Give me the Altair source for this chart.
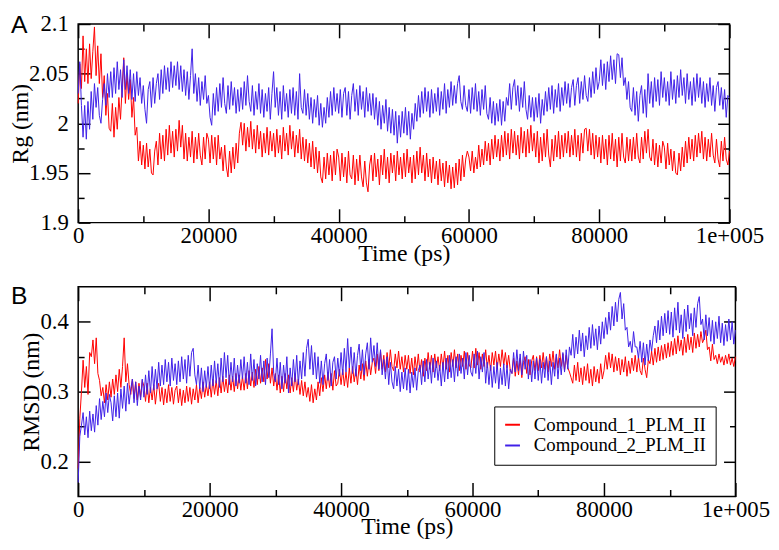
import altair as alt
import pandas as pd

time_ps = [i * 250 for i in range(401)]

series_names = ["Compound_1_PLM_II", "Compound_2_PLM_II"]
series_colors = ["#ff0000", "#3f20e8"]

rg_compound1 = [
    2.020, 2.060, 2.035, 2.088, 2.042, 2.075, 2.040, 2.080, 2.045, 2.072, 2.097, 2.048, 2.078, 2.040, 2.070, 2.026, 2.048, 2.008, 2.030, 1.995,
    1.992, 2.020, 1.986, 2.016, 1.994, 2.026, 2.004, 2.036, 2.066, 2.020, 2.050, 2.024, 2.044, 2.006, 2.026, 1.988, 1.996, 1.962, 1.982, 1.958,
    1.978, 1.954, 1.980, 1.956, 1.974, 1.950, 1.948, 1.972, 1.982, 1.958, 1.990, 1.964, 1.988, 1.962, 1.994, 1.968, 1.998, 1.970, 1.992, 1.966,
    1.994, 1.972, 2.003, 1.976, 1.998, 1.964, 1.990, 1.962, 1.986, 1.966, 1.992, 1.960, 1.986, 1.964, 1.990, 1.968, 1.958, 1.986, 1.964, 1.990,
    1.984, 1.960, 1.988, 1.964, 1.986, 1.958, 1.988, 1.964, 1.976, 1.952, 1.978, 1.956, 1.946, 1.972, 1.950, 1.976, 1.954, 1.980, 1.960, 1.990,
    2.001, 1.978, 2.000, 1.972, 1.996, 1.976, 2.002, 1.974, 1.994, 1.970, 1.998, 1.974, 1.992, 1.966, 1.990, 1.970, 1.996, 1.968, 1.992, 1.972,
    1.990, 1.966, 1.994, 1.970, 1.988, 1.964, 1.996, 1.972, 1.990, 1.968, 1.998, 1.974, 1.992, 1.966, 1.988, 1.970, 1.994, 1.964, 1.986, 1.962,
    1.984, 1.960, 1.980, 1.956, 1.982, 1.954, 1.976, 1.950, 1.972, 1.946, 1.940, 1.966, 1.944, 1.970, 1.948, 1.968, 1.942, 1.972, 1.948, 1.974,
    1.966, 1.942, 1.970, 1.946, 1.966, 1.940, 1.972, 1.948, 1.944, 1.968, 1.938, 1.964, 1.942, 1.968, 1.946, 1.936, 1.962, 1.940, 1.931, 1.958,
    1.968, 1.942, 1.970, 1.946, 1.964, 1.938, 1.968, 1.948, 1.974, 1.944, 1.966, 1.940, 1.970, 1.950, 1.968, 1.942, 1.972, 1.948, 1.966, 1.944,
    1.970, 1.946, 1.974, 1.950, 1.966, 1.940, 1.968, 1.944, 1.972, 1.948, 1.976, 1.950, 1.968, 1.942, 1.970, 1.946, 1.964, 1.940, 1.966, 1.944,
    1.962, 1.938, 1.964, 1.942, 1.960, 1.936, 1.962, 1.940, 1.958, 1.934, 1.956, 1.935, 1.960, 1.938, 1.964, 1.942, 1.968, 1.946, 1.964, 1.972,
    1.966, 1.952, 1.972, 1.950, 1.966, 1.954, 1.978, 1.956, 1.974, 1.958, 1.982, 1.962, 1.980, 1.958, 1.984, 1.964, 1.988, 1.966, 1.984, 1.962,
    1.988, 1.966, 1.992, 1.968, 1.990, 1.964, 1.994, 1.970, 1.992, 1.968, 1.988, 1.964, 1.996, 1.970, 1.992, 1.966, 1.994, 1.970, 1.998, 1.972,
    1.990, 1.966, 1.992, 1.960, 1.986, 1.962, 1.990, 1.966, 1.994, 1.968, 1.956, 1.984, 1.962, 1.988, 1.966, 1.992, 1.964, 1.988, 1.966, 1.990,
    1.970, 1.992, 1.966, 1.988, 1.968, 1.994, 1.966, 1.988, 1.962, 1.990, 1.970, 1.994, 1.995, 1.972, 1.994, 1.968, 1.990, 1.964, 1.988, 1.966,
    1.986, 1.960, 1.988, 1.964, 1.984, 1.958, 1.988, 1.964, 1.990, 1.962, 1.984, 1.956, 1.986, 1.962, 1.990, 1.966, 1.960, 1.986, 1.962, 1.984,
    1.962, 1.986, 1.964, 1.990, 1.966, 1.960, 1.986, 1.964, 1.992, 1.970, 1.994, 1.966, 1.962, 1.984, 1.958, 1.980, 1.956, 1.978, 1.960, 1.982,
    1.976, 1.954, 1.980, 1.958, 1.974, 1.952, 1.972, 1.950, 1.948, 1.970, 1.952, 1.976, 1.956, 1.982, 1.960, 1.986, 1.964, 1.984, 1.962, 1.988,
    1.966, 1.990, 1.970, 1.992, 1.964, 1.986, 1.962, 1.984, 1.966, 1.990, 1.968, 1.960, 1.984, 1.964, 1.956, 1.982, 1.962, 1.986, 1.964, 1.958,
    1.972,
]

rg_compound2 = [
    2.030, 2.062, 2.018, 1.986, 2.018, 1.984, 2.022, 1.994, 2.032, 2.004, 2.040, 2.016, 2.036, 2.008, 2.000, 2.024, 2.040, 2.018, 2.050, 2.026,
    2.052, 2.026, 2.056, 2.030, 2.062, 2.034, 2.054, 2.026, 2.064, 2.034, 2.058, 2.030, 2.054, 2.024, 2.050, 2.022, 2.052, 2.028, 2.046, 2.020,
    2.038, 2.014, 2.000, 2.034, 2.042, 2.016, 2.046, 2.020, 2.040, 2.050, 2.024, 2.054, 2.030, 2.058, 2.034, 2.056, 2.032, 2.062, 2.036, 2.058,
    2.038, 2.062, 2.034, 2.058, 2.032, 2.054, 2.028, 2.052, 2.024, 2.048, 2.075, 2.030, 2.050, 2.022, 2.046, 2.018, 2.042, 2.024, 2.048, 2.020,
    2.028, 2.006, 1.998, 2.030, 2.008, 2.036, 2.012, 2.040, 2.016, 2.046, 2.020, 2.010, 2.038, 2.014, 2.042, 2.018, 2.036, 2.010, 2.034, 2.012,
    2.036, 2.014, 2.042, 2.018, 2.048, 2.022, 2.012, 2.038, 2.008, 2.032, 2.014, 2.040, 2.010, 2.034, 2.006, 2.030, 2.012, 2.036, 2.004, 2.030,
    2.052, 2.016, 2.036, 2.008, 2.032, 2.004, 2.038, 2.012, 2.030, 2.006, 2.034, 2.010, 2.036, 2.008, 2.032, 2.004, 2.050, 2.016, 2.010, 2.034,
    2.008, 2.030, 2.004, 2.026, 2.000, 2.024, 2.006, 2.028, 1.998, 2.020, 1.996, 2.016, 2.000, 2.026, 2.006, 2.032, 2.008, 2.036, 2.012, 2.030,
    2.010, 2.034, 2.006, 2.030, 2.036, 2.008, 2.032, 2.004, 2.028, 2.040, 2.012, 2.034, 2.008, 2.038, 2.014, 2.032, 2.006, 2.036, 2.012, 2.030,
    2.008, 2.030, 2.004, 2.026, 1.998, 2.022, 1.994, 2.018, 2.000, 2.024, 1.992, 2.016, 1.990, 2.014, 1.988, 2.012, 1.980, 2.008, 1.986, 2.012,
    1.990, 2.016, 1.988, 2.012, 1.984, 2.010, 1.994, 2.020, 2.002, 2.028, 2.006, 2.032, 2.010, 2.036, 2.012, 2.032, 2.006, 2.034, 2.010, 2.030,
    2.012, 2.036, 2.008, 2.032, 2.014, 2.040, 2.010, 2.034, 2.016, 2.042, 2.018, 2.038, 2.020, 2.040, 2.048, 2.022, 2.014, 2.038, 2.018, 2.012,
    2.034, 2.010, 2.036, 2.014, 2.040, 2.012, 2.032, 2.008, 2.034, 2.014, 2.038, 2.010, 2.004, 2.026, 2.000, 2.022, 1.998, 2.020, 2.002, 2.024,
    1.998, 2.022, 2.002, 2.026, 2.018, 2.040, 2.014, 2.036, 2.044, 2.018, 2.038, 2.012, 2.036, 2.016, 2.042, 2.014, 2.004, 2.028, 2.006, 2.026,
    2.002, 2.026, 2.006, 2.030, 2.000, 2.024, 2.008, 2.032, 2.012, 2.036, 2.014, 2.038, 2.010, 2.034, 2.016, 2.040, 2.012, 2.036, 2.018, 2.042,
    2.020, 2.040, 2.016, 2.036, 2.044, 2.018, 2.038, 2.046, 2.020, 2.042, 2.024, 2.048, 2.028, 2.022, 2.046, 2.026, 2.052, 2.030, 2.056, 2.034,
    2.042, 2.064, 2.038, 2.060, 2.034, 2.062, 2.042, 2.068, 2.044, 2.064, 2.040, 2.070, 2.069, 2.046, 2.066, 2.038, 2.046, 2.024, 2.042, 2.016,
    2.012, 2.036, 2.008, 2.032, 2.002, 2.028, 2.038, 2.010, 2.034, 2.006, 2.050, 2.020, 2.042, 2.016, 2.046, 2.022, 2.044, 2.018, 2.052, 2.026,
    2.046, 2.022, 2.042, 2.018, 2.052, 2.024, 2.044, 2.020, 2.048, 2.026, 2.054, 2.028, 2.046, 2.020, 2.050, 2.024, 2.042, 2.018, 2.046, 2.022,
    2.050, 2.026, 2.046, 2.020, 2.042, 2.016, 2.040, 2.022, 2.046, 2.018, 2.038, 2.012, 2.036, 2.042, 2.018, 2.036, 2.014, 2.034, 2.006, 2.028,
    2.026,
]

rmsd_compound1 = [
    0.190, 0.262, 0.300, 0.345, 0.306, 0.336, 0.296, 0.356, 0.350, 0.374, 0.340, 0.377, 0.326, 0.316, 0.294, 0.306, 0.284, 0.310, 0.288, 0.314,
    0.292, 0.318, 0.296, 0.324, 0.300, 0.332, 0.306, 0.336, 0.377, 0.314, 0.340, 0.310, 0.296, 0.318, 0.290, 0.314, 0.288, 0.312, 0.292, 0.316,
    0.308, 0.286, 0.312, 0.284, 0.306, 0.288, 0.310, 0.282, 0.304, 0.312, 0.286, 0.306, 0.281, 0.304, 0.284, 0.310, 0.286, 0.306, 0.282, 0.302,
    0.308, 0.284, 0.304, 0.280, 0.302, 0.284, 0.308, 0.286, 0.306, 0.282, 0.304, 0.288, 0.310, 0.284, 0.306, 0.290, 0.314, 0.292, 0.310, 0.294,
    0.314, 0.292, 0.318, 0.296, 0.316, 0.294, 0.320, 0.298, 0.322, 0.300, 0.318, 0.298, 0.324, 0.302, 0.322, 0.300, 0.326, 0.304, 0.324, 0.302,
    0.322, 0.302, 0.326, 0.304, 0.330, 0.308, 0.328, 0.306, 0.332, 0.310, 0.336, 0.312, 0.334, 0.314, 0.346, 0.318, 0.340, 0.312, 0.334, 0.308,
    0.326, 0.302, 0.324, 0.298, 0.322, 0.300, 0.326, 0.304, 0.324, 0.298, 0.320, 0.300, 0.326, 0.302, 0.318, 0.296, 0.316, 0.294, 0.314, 0.292,
    0.306, 0.286, 0.310, 0.284, 0.304, 0.288, 0.314, 0.294, 0.320, 0.300, 0.324, 0.304, 0.328, 0.306, 0.326, 0.302, 0.330, 0.308, 0.312, 0.332,
    0.310, 0.332, 0.308, 0.328, 0.306, 0.334, 0.312, 0.336, 0.314, 0.332, 0.310, 0.338, 0.318, 0.340, 0.316, 0.344, 0.322, 0.346, 0.324, 0.342,
    0.348, 0.326, 0.354, 0.330, 0.358, 0.332, 0.352, 0.328, 0.356, 0.334, 0.360, 0.336, 0.330, 0.354, 0.334, 0.358, 0.332, 0.350, 0.328, 0.352,
    0.332, 0.352, 0.326, 0.348, 0.324, 0.350, 0.330, 0.354, 0.328, 0.346, 0.322, 0.348, 0.330, 0.356, 0.332, 0.352, 0.328, 0.354, 0.334, 0.350,
    0.330, 0.354, 0.334, 0.358, 0.332, 0.352, 0.328, 0.356, 0.336, 0.360, 0.334, 0.354, 0.330, 0.352, 0.336, 0.358, 0.332, 0.356, 0.338, 0.334,
    0.358, 0.334, 0.362, 0.338, 0.356, 0.332, 0.354, 0.336, 0.360, 0.334, 0.352, 0.330, 0.356, 0.338, 0.358, 0.332, 0.354, 0.336, 0.360, 0.338,
    0.356, 0.334, 0.352, 0.330, 0.326, 0.348, 0.322, 0.344, 0.324, 0.348, 0.320, 0.342, 0.350, 0.326, 0.346, 0.324, 0.344, 0.352, 0.330, 0.350,
    0.330, 0.352, 0.334, 0.356, 0.332, 0.350, 0.328, 0.354, 0.336, 0.358, 0.332, 0.352, 0.334, 0.360, 0.336, 0.354, 0.330, 0.352, 0.334, 0.328,
    0.320, 0.312, 0.338, 0.316, 0.342, 0.314, 0.334, 0.310, 0.336, 0.316, 0.340, 0.312, 0.332, 0.308, 0.336, 0.314, 0.332, 0.312, 0.340, 0.318,
    0.330, 0.352, 0.332, 0.356, 0.334, 0.354, 0.328, 0.350, 0.330, 0.348, 0.324, 0.346, 0.328, 0.350, 0.322, 0.344, 0.326, 0.348, 0.330, 0.352,
    0.328, 0.350, 0.330, 0.324, 0.348, 0.332, 0.320, 0.346, 0.340, 0.358, 0.338, 0.362, 0.342, 0.364, 0.344, 0.366, 0.346, 0.368, 0.348, 0.370,
    0.350, 0.372, 0.352, 0.376, 0.354, 0.380, 0.358, 0.374, 0.352, 0.378, 0.356, 0.382, 0.360, 0.378, 0.356, 0.384, 0.362, 0.382, 0.364, 0.386,
    0.370, 0.376, 0.388, 0.360, 0.364, 0.344, 0.368, 0.346, 0.352, 0.340, 0.354, 0.342, 0.350, 0.338, 0.352, 0.340, 0.354, 0.338, 0.348, 0.336,
    0.350,
]

rmsd_compound2 = [
    0.170, 0.236, 0.252, 0.270, 0.238, 0.264, 0.234, 0.272, 0.244, 0.268, 0.242, 0.280, 0.252, 0.290, 0.260, 0.286, 0.264, 0.298, 0.270, 0.296,
    0.284, 0.258, 0.294, 0.264, 0.298, 0.262, 0.304, 0.276, 0.308, 0.272, 0.312, 0.282, 0.304, 0.318, 0.284, 0.314, 0.280, 0.308, 0.288, 0.318,
    0.292, 0.324, 0.296, 0.330, 0.298, 0.336, 0.302, 0.332, 0.304, 0.342, 0.308, 0.338, 0.310, 0.346, 0.314, 0.342, 0.308, 0.348, 0.316, 0.340,
    0.310, 0.344, 0.314, 0.350, 0.318, 0.346, 0.312, 0.352, 0.322, 0.356, 0.362, 0.324, 0.310, 0.338, 0.304, 0.334, 0.300, 0.330, 0.306, 0.336,
    0.304, 0.338, 0.308, 0.344, 0.312, 0.340, 0.306, 0.348, 0.314, 0.356, 0.320, 0.352, 0.310, 0.342, 0.314, 0.348, 0.308, 0.338, 0.312, 0.346,
    0.318, 0.350, 0.312, 0.342, 0.310, 0.354, 0.316, 0.346, 0.308, 0.340, 0.318, 0.352, 0.314, 0.344, 0.310, 0.348, 0.320, 0.354, 0.390, 0.326,
    0.314, 0.348, 0.310, 0.342, 0.304, 0.338, 0.312, 0.350, 0.298, 0.334, 0.308, 0.346, 0.314, 0.352, 0.310, 0.344, 0.318, 0.356, 0.322, 0.362,
    0.375, 0.332, 0.366, 0.324, 0.356, 0.318, 0.350, 0.312, 0.344, 0.310, 0.340, 0.354, 0.316, 0.346, 0.308, 0.342, 0.350, 0.318, 0.348, 0.322,
    0.356, 0.324, 0.362, 0.328, 0.376, 0.334, 0.364, 0.326, 0.356, 0.322, 0.352, 0.368, 0.330, 0.360, 0.324, 0.354, 0.370, 0.332, 0.377, 0.342,
    0.366, 0.336, 0.370, 0.332, 0.360, 0.324, 0.346, 0.318, 0.350, 0.310, 0.342, 0.314, 0.304, 0.336, 0.308, 0.332, 0.300, 0.328, 0.304, 0.334,
    0.302, 0.332, 0.298, 0.328, 0.306, 0.334, 0.302, 0.330, 0.338, 0.310, 0.344, 0.314, 0.346, 0.318, 0.342, 0.312, 0.348, 0.320, 0.344, 0.316,
    0.338, 0.308, 0.342, 0.314, 0.348, 0.318, 0.352, 0.320, 0.346, 0.314, 0.350, 0.322, 0.354, 0.326, 0.348, 0.318, 0.356, 0.324, 0.352, 0.328,
    0.322, 0.354, 0.326, 0.358, 0.318, 0.350, 0.328, 0.356, 0.312, 0.342, 0.310, 0.338, 0.306, 0.336, 0.312, 0.342, 0.304, 0.334, 0.310, 0.340,
    0.308, 0.338, 0.304, 0.332, 0.326, 0.356, 0.328, 0.360, 0.330, 0.354, 0.324, 0.358, 0.332, 0.352, 0.318, 0.346, 0.314, 0.344, 0.318, 0.348,
    0.316, 0.346, 0.312, 0.342, 0.320, 0.350, 0.316, 0.344, 0.310, 0.342, 0.322, 0.354, 0.318, 0.348, 0.324, 0.356, 0.328, 0.360, 0.332, 0.364,
    0.352, 0.382, 0.348, 0.378, 0.354, 0.388, 0.358, 0.384, 0.350, 0.380, 0.360, 0.392, 0.362, 0.396, 0.366, 0.390, 0.360, 0.394, 0.368, 0.400,
    0.376, 0.406, 0.382, 0.414, 0.388, 0.422, 0.394, 0.428, 0.400, 0.432, 0.442, 0.404, 0.426, 0.388, 0.392, 0.364, 0.372, 0.356, 0.386, 0.364,
    0.364, 0.348, 0.372, 0.342, 0.370, 0.338, 0.368, 0.344, 0.374, 0.358, 0.380, 0.394, 0.370, 0.402, 0.374, 0.408, 0.380, 0.412, 0.384, 0.416,
    0.382, 0.414, 0.378, 0.420, 0.388, 0.428, 0.384, 0.410, 0.376, 0.418, 0.386, 0.424, 0.390, 0.412, 0.380, 0.420, 0.392, 0.426, 0.436, 0.396,
    0.404, 0.374, 0.410, 0.380, 0.406, 0.372, 0.402, 0.368, 0.400, 0.376, 0.408, 0.370, 0.398, 0.366, 0.396, 0.372, 0.404, 0.374, 0.400, 0.368,
    0.388,
]

x_domain = [0, 100000]
x_major = [0, 20000, 40000, 60000, 80000, 100000]
x_minor = [10000, 30000, 50000, 70000, 90000]
rg_domain = [1.9, 2.1]
rg_major = [1.9, 1.95, 2.0, 2.05, 2.1]
rg_minor = [1.925, 1.975, 2.025, 2.075]
rmsd_domain = [0.15, 0.45]
rmsd_major = [0.2, 0.3, 0.4]
rmsd_minor = [0.25, 0.35]

for s in (rg_compound1, rg_compound2, rmsd_compound1, rmsd_compound2):
    assert len(s) == len(time_ps), len(s)

SERIF = "Liberation Serif"
SANS = "Liberation Sans"


def long_df(a, b):
    return pd.DataFrame({
        "time": time_ps + time_ps,
        "value": a + b,
        "series": [series_names[0]] * len(a) + [series_names[1]] * len(b),
    })


def ax(**kw):
    base = dict(domain=False, grid=False, tickColor="black", tickWidth=1.5,
                labelFont=SERIF, labelFontSize=23, labelColor="black",
                titleFont=SERIF, titleFontSize=24, titleColor="black",
                titleFontWeight="normal", labelFlush=False, labelOverlap=False)
    base.update(kw)
    return alt.Axis(**base)


def panel(df, ydomain, ymaj, ymin, ytitle, letter, letter_y, width, height, legend):
    xs = alt.Scale(domain=x_domain, nice=False, zero=False)
    ys = alt.Scale(domain=ydomain, nice=False, zero=False)
    color = alt.Color("series:N",
                      scale=alt.Scale(domain=series_names, range=series_colors),
                      legend=legend)
    main = alt.Chart(df).mark_line(strokeWidth=1.0).encode(
        x=alt.X("time:Q", scale=xs, title="Time (ps)",
                axis=ax(orient="bottom", values=x_major, tickSize=14, offset=-14,
                        labelPadding=2, titlePadding=-6,
                        labelExpr="datum.value == 100000 ? '1e+005' : format(datum.value, 'd')")),
        y=alt.Y("value:Q", scale=ys, title=ytitle,
                axis=ax(orient="left", values=ymaj, tickSize=12, offset=-12,
                        labelPadding=10, titlePadding=-4, format="~g")),
        color=color,
    )

    def ghost(xo, xv, xt, yo, yv, yt):
        return alt.Chart(df).mark_line(strokeOpacity=0).encode(
            x=alt.X("time:Q", scale=xs, title=None,
                    axis=ax(orient=xo, values=xv, tickSize=xt, offset=-xt, labels=False)),
            y=alt.Y("value:Q", scale=ys, title=None,
                    axis=ax(orient=yo, values=yv, tickSize=yt, offset=-yt, labels=False)),
        )

    g1 = ghost("bottom", x_minor, 7, "left", ymin, 6)
    g2 = ghost("top", x_major, 14, "right", ymaj, 12)
    g3 = ghost("top", x_minor, 7, "right", ymin, 6)

    lab = alt.Chart(pd.DataFrame({"label": [letter]})).mark_text(
        font=SANS, fontSize=25, align="left", baseline="top", color="black"
    ).encode(x=alt.value(-68), y=alt.value(letter_y), text="label:N")

    return alt.layer(main, g1, g2, g3, lab).resolve_axis(
        x="independent", y="independent").properties(width=width, height=height)


panel_a = panel(long_df(rg_compound1, rg_compound2), rg_domain, rg_major, rg_minor,
                "Rg (nm)", "A", -11, 659, 201, None)

legend_b = alt.Legend(orient="none", legendX=421, legendY=121, title=None,
                      strokeColor="black", fillColor="white", padding=9,
                      symbolType="stroke", symbolStrokeWidth=2, symbolSize=225,
                      labelFont=SERIF, labelFontSize=19, labelColor="black",
                      labelOffset=12, rowPadding=1, labelLimit=400)

panel_b = panel(long_df(rmsd_compound1, rmsd_compound2), rmsd_domain, rmsd_major, rmsd_minor,
                "RMSD (nm)", "B", -3, 665, 212, legend_b)

chart = alt.vconcat(panel_a, panel_b, spacing=17).resolve_scale(
    color="independent"
).configure_view(stroke="black", strokeWidth=1.5).properties(
    padding={"left": 0, "top": 1, "right": 0, "bottom": 0}
)

chart.save("out.html", embed_options={"renderer": "svg", "actions": False})
